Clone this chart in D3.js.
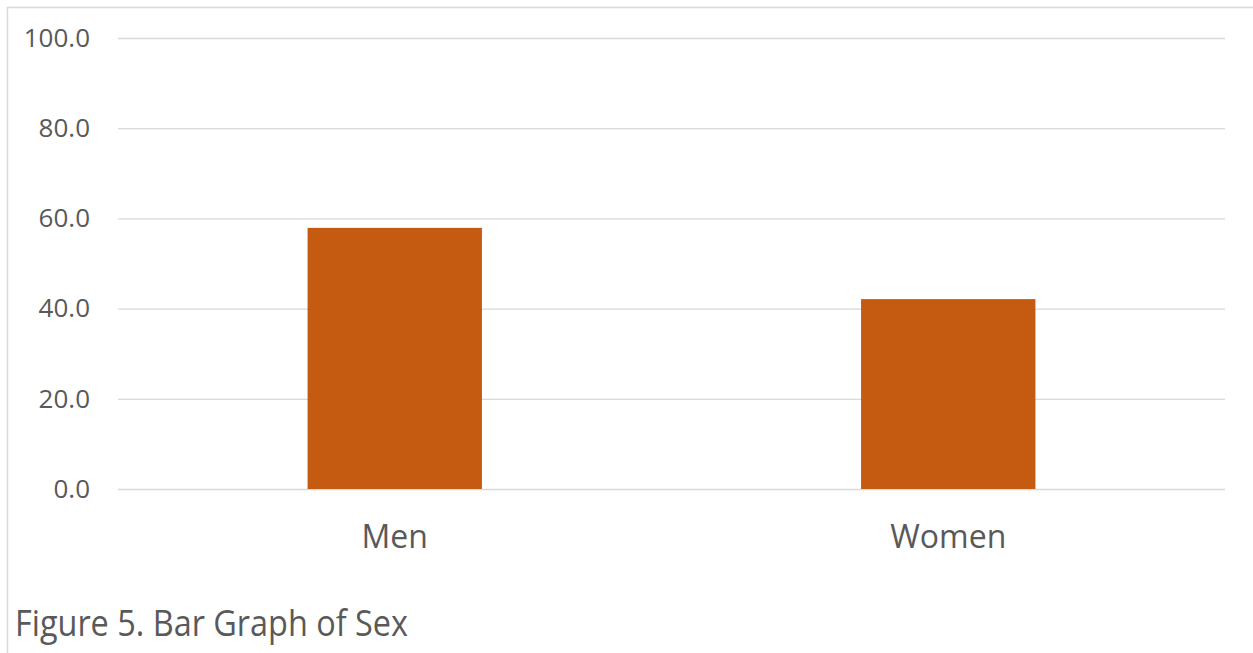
<!DOCTYPE html>
<html>
<head>
<meta charset="utf-8">
<script src="https://cdn.jsdelivr.net/npm/d3@7"></script>
<style>
  html, body { margin: 0; padding: 0; background: #fff; }
  svg { display: block; }
  text { font-family: "Open Sans", "DejaVu Sans", sans-serif; fill: #595959; }
</style>
</head>
<body>
<script>
// Share of respondents by sex (percent)
const categories = ["Men", "Women"];
const values = [57.9, 42.1];
const tickValues = [0, 20, 40, 60, 80, 100];
const title = "Figure 5. Bar Graph of Sex";

const W = 1253, H = 653;
const plot = { left: 118, right: 1225, top: 38, bottom: 489 };

const svg = d3.select("body").append("svg")
  .attr("width", W).attr("height", H);

// outer frame (top and left edges visible)
svg.append("line").attr("x1", 7).attr("x2", W).attr("y1", 7.5).attr("y2", 7.5)
  .attr("stroke", "#d9d9d9").attr("stroke-width", 1.5);
svg.append("line").attr("x1", 7.5).attr("x2", 7.5).attr("y1", 7).attr("y2", H)
  .attr("stroke", "#d9d9d9").attr("stroke-width", 1.5);

const x = d3.scaleBand().domain(categories).range([plot.left, plot.right]).padding(0);
const y = d3.scaleLinear().domain([0, 100]).range([plot.bottom, plot.top]);

// gridlines + value labels
const yAxis = d3.axisLeft(y)
  .tickValues(tickValues)
  .tickFormat(d3.format(".1f"))
  .tickSize(-(plot.right - plot.left))
  .tickPadding(28);

const gy = svg.append("g")
  .attr("transform", `translate(${plot.left},0)`)
  .call(yAxis);
gy.select(".domain").remove();
gy.selectAll(".tick line").attr("stroke", "#d9d9d9").attr("stroke-width", 1.3);
gy.selectAll(".tick text")
  .attr("font-size", 26)
  .attr("fill", "#595959")
  .style("font-family", "'Open Sans', sans-serif");

// bars
const barFrac = 0.315;
svg.append("g").selectAll("rect")
  .data(categories)
  .join("rect")
  .attr("x", (d) => x(d) + x.bandwidth() * (1 - barFrac) / 2)
  .attr("width", x.bandwidth() * barFrac)
  .attr("y", (d, i) => y(values[i]))
  .attr("height", (d, i) => y(0) - y(values[i]))
  .attr("fill", "#c55a11");

// category labels
const xAxis = d3.axisBottom(x).tickSize(0).tickPadding(36);
const gx = svg.append("g")
  .attr("transform", `translate(0,${plot.bottom})`)
  .call(xAxis);
gx.select(".domain").remove();
gx.selectAll(".tick text")
  .attr("font-size", 32)
  .attr("fill", "#595959")
  .style("font-family", "'Open Sans', sans-serif");

// caption
svg.append("text")
  .attr("x", 15)
  .attr("y", 636)
  .attr("font-size", 36)
  .attr("textLength", 393)
  .attr("lengthAdjust", "spacingAndGlyphs")
  .text(title);
</script>
</body>
</html>
